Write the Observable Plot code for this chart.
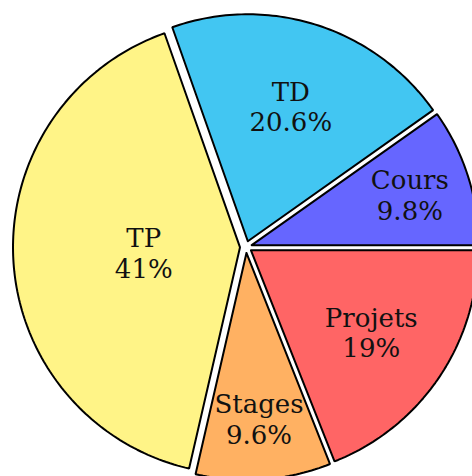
<!DOCTYPE html>
<html>
<head>
<meta charset="utf-8">
<script src="https://cdn.jsdelivr.net/npm/d3@7"></script>
<script src="https://cdn.jsdelivr.net/npm/@observablehq/plot@0.6"></script>
<style>
  html, body { margin: 0; padding: 0; background: #fff; }
  #chart svg { display: block; }
  #chart svg text { font-family: "DejaVu Serif", serif !important; }
</style>
</head>
<body>
<div id="chart"></div>
<script>
// Data
const labels = ["Cours", "TD", "TP", "Stages", "Projets"];
const values = [9.8, 20.6, 41, 9.6, 19];
const colors = ["#6666FF", "#42C6F2", "#FFF487", "#FFB162", "#FF6565"];

// Layout
const W = 472, H = 476;
const cx = 245.5, cy = 246.5;   // pixel position of pie centre
const R = 227;                   // radius
const explode = 6;               // offset of each slice
const rad = Math.PI / 180;

const total = d3.sum(values);
const polys = [];
const texts = [];
let acc = 0;
labels.forEach((lab, i) => {
  const a0 = acc / total * 360;
  const a1 = (acc + values[i]) / total * 360;
  acc += values[i];
  const mid = (a0 + a1) / 2;
  const ox = explode * Math.cos(mid * rad), oy = explode * Math.sin(mid * rad);
  const pts = [{x: ox, y: oy}];
  const n = Math.max(2, Math.ceil(a1 - a0));
  for (let k = 0; k <= n; k++) {
    const a = (a0 + (a1 - a0) * k / n) * rad;
    pts.push({x: ox + R * Math.cos(a), y: oy + R * Math.sin(a)});
  }
  pts.push({x: ox, y: oy});
  pts.forEach(p => polys.push({...p, label: lab, color: colors[i]}));
  const span = a1 - a0;
  const f = 0.8 + Math.min((span - 10) / 110 * -0.3, 0);
  const dist = explode + f * R;
  texts.push({x: dist * Math.cos(mid * rad), y: dist * Math.sin(mid * rad), text: `${lab}\n${values[i]}%`});
});

const chart = Plot.plot({
  width: W,
  height: H,
  margin: 0,
  style: "overflow: hidden; background: white;",
  x: {axis: null, domain: [-cx, W - cx], range: [0, W]},
  y: {axis: null, domain: [-(H - cy), cy], range: [H, 0]},
  color: {type: "identity"},
  marks: [
    Plot.line(polys, {
      x: "x", y: "y", z: "label",
      fill: "color", stroke: "black", strokeWidth: 2,
      strokeLinejoin: "miter", curve: "linear"
    }),
    Plot.text(texts, {
      x: "x", y: "y", text: "text",
      fontFamily: "DejaVu Serif",
      fontSize: 26, lineHeight: 1.16, fill: "#111"
    })
  ]
});
document.getElementById("chart").append(chart);
</script>
</body>
</html>
